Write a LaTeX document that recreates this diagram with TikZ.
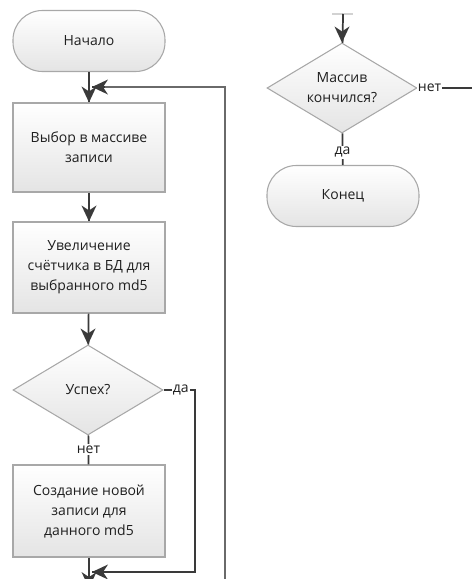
\documentclass[tikz,border=0pt]{standalone}
\usepackage{fontspec}
\setmainfont{Open Sans}
\usetikzlibrary{shapes.geometric}
\definecolor{shapeline}{HTML}{A8A8A8}
\definecolor{shapefill}{HTML}{F2F2F2}
\definecolor{flow}{HTML}{3A3A3A}
\definecolor{loopline}{HTML}{6A6A6A}
\begin{document}
\begin{tikzpicture}[x=0.75pt,y=0.75pt,
  every node/.style={font=\fontsize{10.5}{15}\selectfont, text=black!88},
  box/.style={draw=shapeline, line width=0.8pt, top color=white, bottom color=shapefill!88!gray,
    rectangle, minimum width=152*0.75pt, align=center, inner sep=2pt},
  term/.style={box, rounded corners=22pt, minimum height=61*0.75pt},
  decide/.style={draw=shapeline, line width=0.8pt, top color=white, bottom color=shapefill!88!gray,
    diamond, aspect=1.667, minimum width=150*0.75pt, minimum height=90*0.75pt, inner sep=0pt, align=center},
  flowline/.style={draw=flow, line width=1.3pt},
  lbl/.style={fill=white, inner sep=1pt},
  % filled stealth-like head, tip at the origin, pointing along +x
  pics/headtip/.style={code={\fill[flow] (0,0) -- (-16,7.5) -- (-11,0) -- (-16,-7.5) -- cycle;}}]
\useasboundingbox (0,0) rectangle (472,-579);

% left column
\node[term] (start) at (89,-41) {Начало};
\node[box, minimum height=89*0.75pt] (pick) at (89,-147.5) {Выбор в массиве\\записи};
\node[box, minimum height=91*0.75pt] (incr) at (89,-267.5) {Увеличение\\счётчика в БД для\\выбранного md5};
\node[decide] (ok) at (88,-390) {Успех?};
\node[box, minimum height=92*0.75pt] (create) at (89,-511) {Создание новой\\записи для\\данного md5};

% right column
\node[decide] (done) at (342,-88) {Массив\\кончился?};
\node[term] (finish) at (343,-196) {Конец};

% free ends and bends
\coordinate (merge) at (92,-87);
\coordinate (loopin) at (225,-600);
\coordinate (yesturn) at (195,-390);
\coordinate (join) at (92,-572);
\coordinate (downout) at (89,-588);
\coordinate (topin) at (343,-14);
\coordinate (topa) at (332,-14);
\coordinate (topb) at (353,-14);
\coordinate (noout) at (472,-88);

% loop back from the right column
\draw[draw=loopline, line width=1pt] (loopin) -- (225,-87) -- (105,-87);
\draw[flowline] (105,-87) -- (merge);
\pic[rotate=180] at (merge) {headtip};

% main flow
\draw[flowline] (start) -- (pick);
\pic[rotate=-90] at (pick.north) {headtip};
\draw[flowline] (pick) -- (incr);
\pic[rotate=-90] at (incr.north) {headtip};
\draw[flowline] (incr) -- (ok);
\pic[rotate=-90] at (ok.north) {headtip};
\draw[flowline] (ok) -- node[lbl, pos=0.48]{нет} (create);
\draw[flowline] (ok.east) -- node[lbl, pos=0.55]{да} (yesturn) -- (195,-572) -- (join);
\pic[rotate=180] at (join) {headtip};
\draw[flowline] (create) -- (downout);
\pic[rotate=-90] at (downout) {headtip};

% right column flow
\draw[draw=gray!35, line width=0.8pt] (topa) -- (topb);
\draw[flowline] (topin) -- (done);
\pic[rotate=-90] at (done.north) {headtip};
\draw[flowline] (done.east) -- node[lbl, pos=0.22]{нет} (noout);
\draw[flowline] (done) -- node[lbl, pos=0.6]{да} (finish);
\end{tikzpicture}
\end{document}
